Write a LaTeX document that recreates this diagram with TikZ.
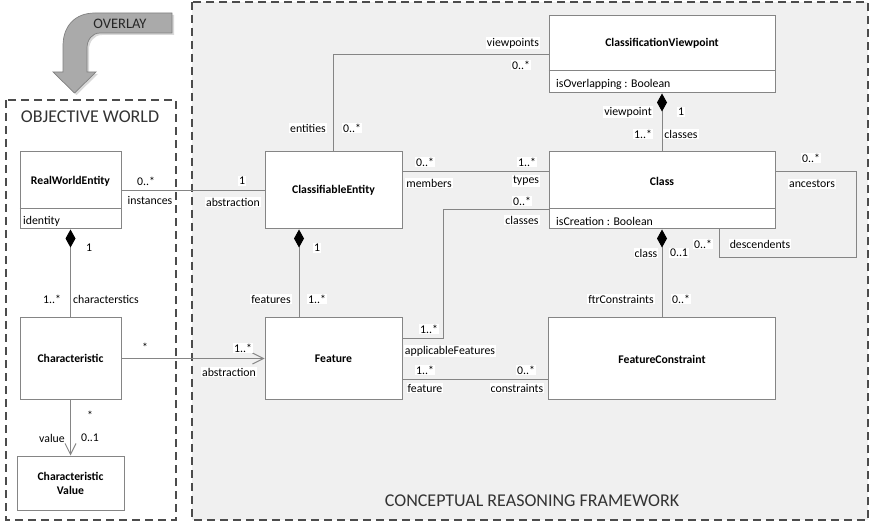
\documentclass[tikz,border=0pt]{standalone}
\usepackage{fontspec}
\setmainfont{Carlito}
\usepackage{xcolor}
\usepackage{tikz}
\usetikzlibrary{arrows.meta}
\usetikzlibrary{shadows}
\usetikzlibrary{calc}

\definecolor{framebg}{HTML}{F0F0F0}
\definecolor{linegray}{HTML}{858585}
\definecolor{arrowgray}{HTML}{AAAAAA}

\begin{document}
\begin{tikzpicture}[x=1pt, y=-1pt,
    umlbox/.style={draw=linegray, fill=white, line width=1pt, inner sep=0pt},
    cname/.style={font=\bfseries\fontsize{11.7}{14}\selectfont},
    attr/.style={anchor=west, inner sep=0pt, font=\fontsize{11.8}{13}\selectfont},
    mult/.style={fill=white, inner sep=1pt, font=\fontsize{11.8}{13}\selectfont},
    assoc/.style={draw=linegray, line width=1pt},
    frame/.style={draw=black!70, line width=1.1pt, dash pattern=on 8pt off 5pt},
    title/.style={text=black!80, font=\fontsize{18}{20}\selectfont},
    comp/.style={assoc, {Diamond[black,length=18pt,width=10pt]}-},
    nav/.style={assoc, -{Straight Barb[length=11pt,width=11pt]}}]
    \useasboundingbox (0,0) rectangle (870,521);

    % the two regions
    \draw[frame, fill=framebg] (192,2) rectangle (868,520);
    \draw[frame] (6,100) rectangle (176,520);
    \node[title] (owtitle) at (90,117) {OBJECTIVE WORLD};
    \node[title] (crftitle) at (532,501) {CONCEPTUAL REASONING FRAMEWORK};

    % overlay block arrow
    \draw[fill=arrowgray, draw=black!50, line width=0.7pt,
          drop shadow={shadow xshift=2pt, shadow yshift=-2pt, opacity=.3}]
      (172,13) -- (95,13) .. controls (75,13) and (63,26) .. (63,46) -- (63,72)
      -- (53,72) -- (74.5,93) -- (96,72) -- (87,72) -- (87,48)
      .. controls (87,40) and (92,33) .. (100,33) -- (172,33) -- cycle;
    \node[text=black!85, font=\fontsize{14.5}{16}\selectfont] (ovl) at (120,24) {OVERLAY};

    % classes, objective world
    \node[umlbox, minimum width=101, minimum height=77] (rwe) at (70.5,190.5) {};
    \draw[assoc] (rwe.west |- 0,209) -- (rwe.east |- 0,209);
    \node[cname] (rwename) at (70.5,181) {RealWorldEntity};
    \node[attr] (rweattr) at (23,221) {identity};

    \node[umlbox, minimum width=101, minimum height=81] (chr) at (70.5,358.5) {};
    \node[cname] (chrname) at (70.5,358) {Characteristic};

    \node[umlbox, minimum width=107, minimum height=54] (cval) at (70.5,483) {};
    \node[cname, align=center] (cvalname) at (70.5,483) {Characteristic\\Value};

    % classes, reasoning framework
    \node[umlbox, minimum width=137, minimum height=77] (ce) at (333.5,190.5) {};
    \node[cname] (cename) at (333.5,190) {ClassifiableEntity};

    \node[umlbox, minimum width=137, minimum height=81] (feat) at (333.5,358.5) {};
    \node[cname] (featname) at (333.5,359) {Feature};

    \node[umlbox, minimum width=226, minimum height=77] (cv) at (662,54.5) {};
    \draw[assoc] (cv.west |- 0,71) -- (cv.east |- 0,71);
    \node[cname] (cvname) at (662,43) {ClassificationViewpoint};
    \node[attr] (cvattr) at (556,84) {isOverlapping : Boolean};

    \node[umlbox, minimum width=226, minimum height=77] (cls) at (662,190.5) {};
    \draw[assoc] (cls.west |- 0,209) -- (cls.east |- 0,209);
    \node[cname] (clsname) at (662,181) {Class};
    \node[attr] (clsattr) at (556,221) {isCreation : Boolean};

    \node[umlbox, minimum width=227, minimum height=81] (fc) at (662,358.5) {};
    \node[cname] (fcname) at (662,359) {FeatureConstraint};

    % associations
    \draw[assoc] (rwe) -- (ce);
    \draw[comp] (rwe) -- (chr);
    \draw[nav] (chr) -- (feat);
    \draw[nav] (chr) -- (cval);
    \draw[comp] ($(ce.south west)!0.25!(ce.south east)$) -- ($(feat.north west)!0.25!(feat.north east)$);
    \draw[assoc] (ce.north) |- (cv.west);
    \draw[comp] (cv) -- (cls);
    \draw[comp] (cls) -- (fc);
    \draw[assoc] ([yshift=-20pt]ce.north east) -- ([yshift=-20pt]cls.north west);
    \draw[assoc] ([yshift=-19.5pt]cls.west) -| ([xshift=41pt,yshift=20.5pt]feat.east) -- ([yshift=20.5pt]feat.east);
    \draw[assoc] ([yshift=-20pt]cls.north east) -- ++(81,0) |- ([xshift=57pt,yshift=-28pt]cls.south) -- ([xshift=57pt]cls.south);
    \draw[assoc] ([yshift=-20.5pt]feat.east) -- ([yshift=-20.5pt]fc.west);

    % role names and multiplicities
    \node[mult] (instm) at (146,181) {0..*};
    \node[mult] (instr) at (150,200) {instances};
    \node[mult] (absm) at (242,181) {1};
    \node[mult] (absr) at (233,202) {abstraction};
    \node[mult] (rwem) at (89,248) {1};
    \node[mult] (chrm) at (52,299) {1..*};
    \node[mult] (chrr) at (106,299) {characterstics};
    \node[mult] (srcm) at (145,347) {*};
    \node[mult] (absm2) at (243,348) {1..*};
    \node[mult] (absr2) at (229,372) {abstraction};
    \node[mult] (valsrc) at (90,415) {*};
    \node[mult] (valr) at (52,438) {value};
    \node[mult] (valm) at (90,438) {0..1};
    \node[mult] (cem) at (317,248) {1};
    \node[mult] (featr) at (271,299) {features};
    \node[mult] (featm) at (317,299) {1..*};
    \node[mult] (vpr) at (513,43) {viewpoints};
    \node[mult] (vpm) at (521,65) {0..*};
    \node[mult] (entr) at (308,128) {entities};
    \node[mult] (entm) at (352,128) {0..*};
    \node[mult] (vpr2) at (628,112) {viewpoint};
    \node[mult] (vpm2) at (681,112) {1};
    \node[mult] (clsm) at (643,134) {1..*};
    \node[mult] (clsr) at (681,134) {classes};
    \node[mult] (memm) at (425,162) {0..*};
    \node[mult] (memr) at (429,183) {members};
    \node[mult] (typm) at (527,162) {1..*};
    \node[mult] (typr) at (526,181) {types};
    \node[mult] (clsm2) at (522,201) {0..*};
    \node[mult] (clsr2) at (522,220) {classes};
    \node[mult] (ancm) at (811,158) {0..*};
    \node[mult] (ancr) at (812,184) {ancestors};
    \node[mult] (desm) at (703,244) {0..*};
    \node[mult] (desr) at (760,244) {descendents};
    \node[mult] (clsr3) at (646,253) {class};
    \node[mult] (clsm3) at (679,253) {0..1};
    \node[mult] (ftrr) at (621,299) {ftrConstraints};
    \node[mult] (ftrm) at (681,299) {0..*};
    \node[mult] (appm) at (429,329) {1..*};
    \node[mult] (appr) at (450,351) {applicableFeatures};
    \node[mult] (fm) at (425,370) {1..*};
    \node[mult] (fr) at (425,388) {feature};
    \node[mult] (conm) at (526,370) {0..*};
    \node[mult] (conr) at (517,388) {constraints};
\end{tikzpicture}
\end{document}
